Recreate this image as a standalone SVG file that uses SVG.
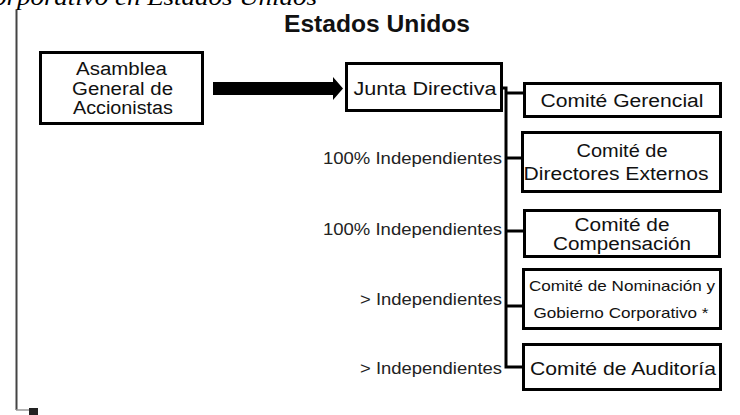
<svg xmlns="http://www.w3.org/2000/svg" width="740" height="415" viewBox="0 0 740 415">
<style>
  .box { fill: #fff; stroke: #000; stroke-width: 3; }
  .t { font-family: "Liberation Sans", Arial, sans-serif; fill: #111; text-anchor: middle; }
  .lbl { font-family: "Liberation Sans", Arial, sans-serif; fill: #222; text-anchor: end; font-size: 16px; }
  .conn { fill: none; stroke: #000; stroke-width: 3; }
</style>
<rect width="740" height="415" fill="#fff"/>
<text x="-7" y="5" font-family="Liberation Serif, Times New Roman, serif" font-style="italic" font-size="24" fill="#000" textLength="324" lengthAdjust="spacingAndGlyphs">orporativo en Estados Unidos</text>
<line x1="16.5" y1="10" x2="16.5" y2="410" stroke="#444" stroke-width="2"/>
<line x1="16" y1="410" x2="30" y2="410" stroke="#999" stroke-width="1.5"/>
<rect x="29" y="408" width="9" height="7" fill="#222"/>
<text x="377" y="32" class="t" font-size="24" font-weight="bold" fill="#000" textLength="186" lengthAdjust="spacingAndGlyphs">Estados Unidos</text>

<g id="connectors">
  <polygon points="213,82 333,82 333,77 343,88.5 333,100 333,95 213,95" fill="#000"/>
  <path class="conn" d="M502,88 H506 V367 H523"/>
  <path class="conn" d="M506,93 H524"/>
  <path class="conn" d="M506,158 H522"/>
  <path class="conn" d="M506,231 H524"/>
  <path class="conn" d="M506,306 H523"/>
</g>

<g id="asamblea">
  <rect class="box" x="40.5" y="52.5" width="162" height="71"/>
  <text class="t" font-size="18" x="121.5" y="75" textLength="91" lengthAdjust="spacingAndGlyphs">Asamblea</text>
  <text class="t" font-size="18" x="122.5" y="94.5" textLength="101" lengthAdjust="spacingAndGlyphs">General de</text>
  <text class="t" font-size="18" x="123" y="114" textLength="100" lengthAdjust="spacingAndGlyphs">Accionistas</text>
</g>

<g id="junta">
  <rect class="box" x="346.5" y="63.5" width="155" height="47"/>
  <text class="t" font-size="19" x="425" y="95" textLength="143" lengthAdjust="spacingAndGlyphs">Junta Directiva</text>
</g>

<g id="gerencial">
  <rect class="box" x="524.5" y="83.5" width="196" height="33"/>
  <text class="t" font-size="18" x="622" y="107" textLength="163" lengthAdjust="spacingAndGlyphs">Comité Gerencial</text>
</g>

<g id="directores">
  <rect class="box" x="522.5" y="132.5" width="198" height="59"/>
  <text class="lbl" x="502" y="164" textLength="179" lengthAdjust="spacingAndGlyphs">100% Independientes</text>
  <text class="t" font-size="18" x="622" y="157" textLength="91" lengthAdjust="spacingAndGlyphs">Comité de</text>
  <text class="t" font-size="18" x="616" y="180" textLength="185" lengthAdjust="spacingAndGlyphs">Directores Externos</text>
</g>

<g id="compensacion">
  <rect class="box" x="524.5" y="210.5" width="195" height="46"/>
  <text class="lbl" x="502" y="235" textLength="179" lengthAdjust="spacingAndGlyphs">100% Independientes</text>
  <text class="t" font-size="18" x="622" y="231" textLength="95" lengthAdjust="spacingAndGlyphs">Comité de</text>
  <text class="t" font-size="18" x="622" y="250" textLength="138" lengthAdjust="spacingAndGlyphs">Compensación</text>
</g>

<g id="nominacion">
  <rect class="box" x="523.5" y="269.5" width="197" height="59"/>
  <text class="lbl" x="502" y="305" textLength="142" lengthAdjust="spacingAndGlyphs">&gt; Independientes</text>
  <text class="t" font-size="15" x="622" y="291" textLength="186" lengthAdjust="spacingAndGlyphs">Comité de Nominación y</text>
  <text class="t" font-size="15" x="621" y="318" textLength="175" lengthAdjust="spacingAndGlyphs">Gobierno Corporativo *</text>
</g>

<g id="auditoria">
  <rect class="box" x="523.5" y="344.5" width="197" height="45"/>
  <text class="lbl" x="502" y="374" textLength="142" lengthAdjust="spacingAndGlyphs">&gt; Independientes</text>
  <text class="t" font-size="19" x="623" y="375" textLength="186" lengthAdjust="spacingAndGlyphs">Comité de Auditoría</text>
</g>
</svg>
